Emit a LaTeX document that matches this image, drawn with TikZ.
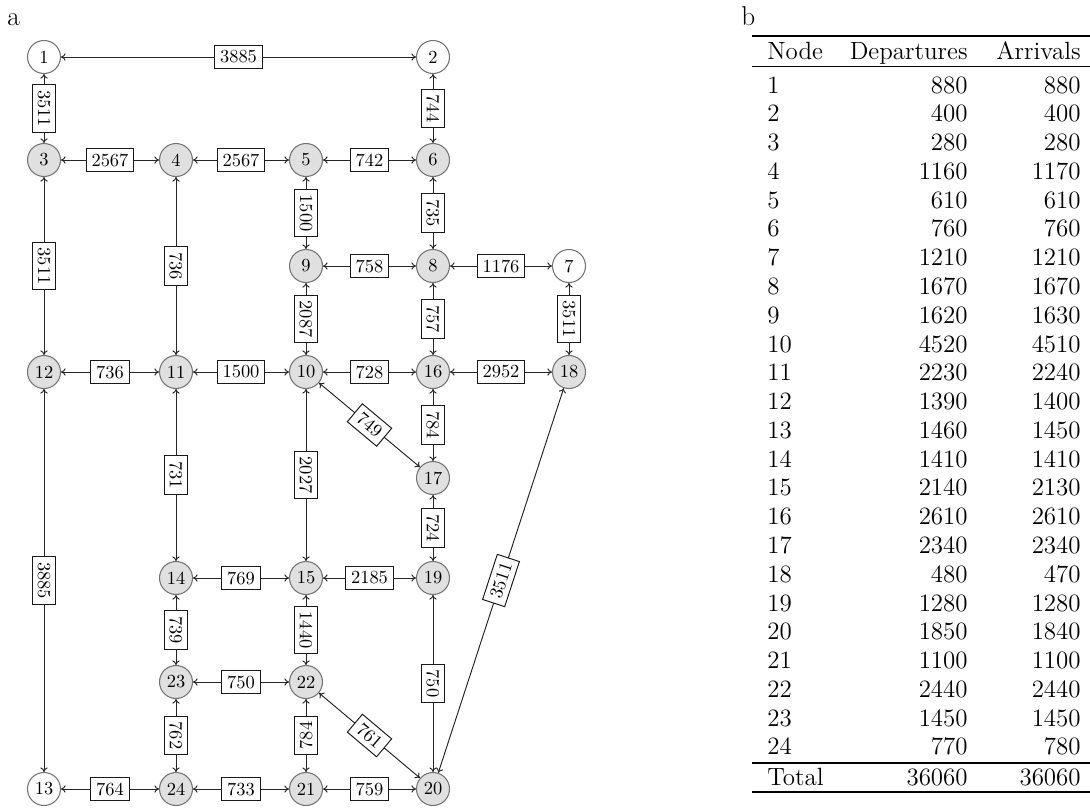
\documentclass[tikz,border=0pt]{standalone}
\usetikzlibrary{arrows.meta}
\begin{document}
\begin{tikzpicture}[x=0.02cm,y=-0.02cm,
  vtx/.style={circle,draw=black!55,fill=black!12,line width=0.6pt,minimum size=0.66cm,inner sep=0pt,font=\fontsize{10.5}{12}\selectfont},
  vtxw/.style={vtx,fill=white},
  lnk/.style={draw=black!85,line width=0.55pt,{To[length=2.6pt,width=4.2pt]}-{To[length=2.6pt,width=4.2pt]}},
  lab/.style={draw=black!90,fill=white,line width=0.55pt,sloped,midway,font=\fontsize{10.5}{12}\selectfont,inner sep=3pt},
  tabf/.style={font=\fontsize{14.2}{16}\selectfont,inner sep=0pt},
  panel/.style={font=\fontsize{15.5}{18}\selectfont,inner sep=0pt}
]
\useasboundingbox (0,0) rectangle (1090,809);

\node[panel,anchor=base west] (pa) at (7,25) {a};
\node[panel,anchor=base west] (pb) at (741,25) {b};

% vertices
\node[vtxw] (n1) at (44,57) {1};
\node[vtxw] (n2) at (433,57) {2};
\node[vtx] (n3) at (44,160) {3};
\node[vtx] (n4) at (176,160) {4};
\node[vtx] (n5) at (306,160) {5};
\node[vtx] (n6) at (433,160) {6};
\node[vtx] (n9) at (306,266) {9};
\node[vtx] (n8) at (433,266) {8};
\node[vtxw] (n7) at (569,266) {7};
\node[vtx] (n12) at (44,372) {12};
\node[vtx] (n11) at (176,372) {11};
\node[vtx] (n10) at (306,372) {10};
\node[vtx] (n16) at (433,372) {16};
\node[vtx] (n18) at (569,372) {18};
\node[vtx] (n17) at (433,478) {17};
\node[vtx] (n14) at (176,578) {14};
\node[vtx] (n15) at (306,578) {15};
\node[vtx] (n19) at (433,578) {19};
\node[vtx] (n23) at (176,682) {23};
\node[vtx] (n22) at (306,682) {22};
\node[vtxw] (n13) at (44,789) {13};
\node[vtx] (n24) at (176,789) {24};
\node[vtx] (n21) at (306,789) {21};
\node[vtx] (n20) at (433,789) {20};

% links
\draw[lnk] (n1) -- node[lab]{3885} (n2);
\draw[lnk] (n1) -- node[lab]{3511} (n3);
\draw[lnk] (n2) -- node[lab]{744} (n6);
\draw[lnk] (n3) -- node[lab]{2567} (n4);
\draw[lnk] (n4) -- node[lab]{2567} (n5);
\draw[lnk] (n5) -- node[lab]{742} (n6);
\draw[lnk] (n3) -- node[lab]{3511} (n12);
\draw[lnk] (n4) -- node[lab]{736} (n11);
\draw[lnk] (n5) -- node[lab]{1500} (n9);
\draw[lnk] (n6) -- node[lab]{735} (n8);
\draw[lnk] (n9) -- node[lab]{758} (n8);
\draw[lnk] (n8) -- node[lab]{1176} (n7);
\draw[lnk] (n9) -- node[lab]{2087} (n10);
\draw[lnk] (n8) -- node[lab]{757} (n16);
\draw[lnk] (n7) -- node[lab]{3511} (n18);
\draw[lnk] (n12) -- node[lab]{736} (n11);
\draw[lnk] (n11) -- node[lab]{1500} (n10);
\draw[lnk] (n10) -- node[lab]{728} (n16);
\draw[lnk] (n16) -- node[lab]{2952} (n18);
\draw[lnk] (n10) -- node[lab]{749} (n17);
\draw[lnk] (n16) -- node[lab]{784} (n17);
\draw[lnk] (n11) -- node[lab]{731} (n14);
\draw[lnk] (n10) -- node[lab]{2027} (n15);
\draw[lnk] (n17) -- node[lab]{724} (n19);
\draw[lnk] (n12) -- node[lab]{3885} (n13);
\draw[lnk] (n14) -- node[lab]{769} (n15);
\draw[lnk] (n15) -- node[lab]{2185} (n19);
\draw[lnk] (n14) -- node[lab]{739} (n23);
\draw[lnk] (n15) -- node[lab]{1440} (n22);
\draw[lnk] (n19) -- node[lab]{750} (n20);
\draw[lnk] (n23) -- node[lab]{750} (n22);
\draw[lnk] (n20) -- node[lab]{3511} (n18);
\draw[lnk] (n23) -- node[lab]{762} (n24);
\draw[lnk] (n21) -- node[lab]{784} (n22);
\draw[lnk] (n22) -- node[lab]{761} (n20);
\draw[lnk] (n13) -- node[lab]{764} (n24);
\draw[lnk] (n24) -- node[lab]{733} (n21);
\draw[lnk] (n21) -- node[lab]{759} (n20);

% table
\draw[line width=1.1pt] (752,36) -- (1090,36);
\draw[line width=0.6pt] (752,66.5) -- (1090,66.5);
\draw[line width=0.6pt] (752,763) -- (1090,763);
\draw[line width=1.1pt] (752,792) -- (1090,792);
\node[tabf,anchor=base west] (hn) at (767,59) {Node};
\node[tabf,anchor=base east] (hd) at (968,59) {Departures};
\node[tabf,anchor=base east] (ha) at (1081,59) {Arrivals};
\foreach \i/\d/\a [count=\k] in {1/880/880,2/400/400,3/280/280,4/1160/1170,5/610/610,6/760/760,7/1210/1210,8/1670/1670,9/1620/1630,10/4520/4510,11/2230/2240,12/1390/1400,13/1460/1450,14/1410/1410,15/2140/2130,16/2610/2610,17/2340/2340,18/480/470,19/1280/1280,20/1850/1840,21/1100/1100,22/2440/2440,23/1450/1450,24/770/780}{
  \node[tabf,anchor=base west] (rn\k) at (767,{93+(\k-1)*28.78}) {\i};
  \node[tabf,anchor=base east] (rd\k) at (968,{93+(\k-1)*28.78}) {\d};
  \node[tabf,anchor=base east] (ra\k) at (1081,{93+(\k-1)*28.78}) {\a};
}
\node[tabf,anchor=base west] (tn) at (767,785) {Total};
\node[tabf,anchor=base east] (td) at (968,785) {36060};
\node[tabf,anchor=base east] (ta) at (1081,785) {36060};
\end{tikzpicture}
\end{document}
